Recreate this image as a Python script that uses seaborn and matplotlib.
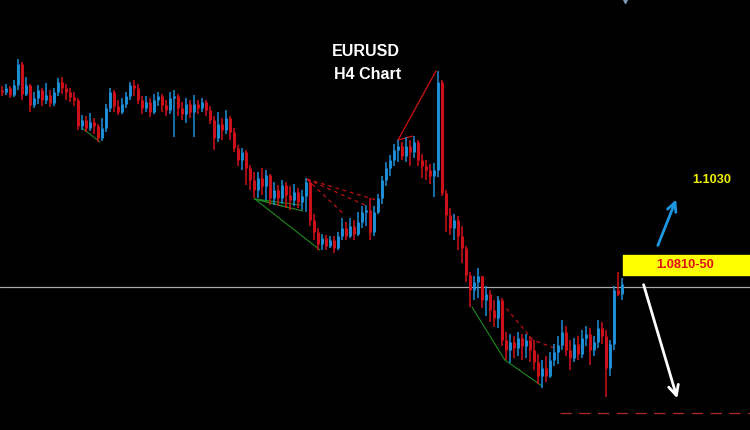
import matplotlib
matplotlib.use("Agg")
import matplotlib.pyplot as plt
import pandas as pd
import seaborn as sns

# EURUSD H4 bars (open of each bar = previous close)
first_open = 1.1180
closes = [1.1176, 1.1184, 1.1170, 1.1190, 1.1232, 1.1172, 1.1190, 1.1150, 1.1164, 1.1180,
          1.1160, 1.1170, 1.1154, 1.1176, 1.1196, 1.1184, 1.1176, 1.1166, 1.1160, 1.1108,
          1.1120, 1.1104, 1.1116, 1.1108, 1.1084, 1.1104, 1.1144, 1.1176, 1.1148, 1.1136,
          1.1152, 1.1168, 1.1190, 1.1184, 1.1160, 1.1144, 1.1156, 1.1136, 1.1160, 1.1168,
          1.1150, 1.1140, 1.1164, 1.1168, 1.1144, 1.1132, 1.1152, 1.1136, 1.1152, 1.1144,
          1.1156, 1.1140, 1.1120, 1.1084, 1.1112, 1.1100, 1.1124, 1.1096, 1.1064, 1.1040,
          1.1056, 1.1024, 1.1000, 1.0980, 1.1004, 1.0988, 1.1010, 1.0964, 1.0980, 1.0964,
          1.0990, 1.0970, 1.0960, 1.0976, 1.0956, 1.0968, 1.0996, 1.0920, 1.0896, 1.0872,
          1.0884, 1.0868, 1.0880, 1.0864, 1.0888, 1.0904, 1.0888, 1.0908, 1.0892, 1.0916,
          1.0936, 1.0940, 1.0896, 1.0936, 1.0964, 1.1000, 1.1024, 1.1040, 1.1060, 1.1068,
          1.1048, 1.1068, 1.1056, 1.1076, 1.1040, 1.1028, 1.1020, 1.1008, 1.1020, 1.1196,
          1.0974, 1.0930, 1.0904, 1.0920, 1.0888, 1.0864, 1.0810, 1.0780, 1.0796, 1.0808,
          1.0760, 1.0772, 1.0740, 1.0724, 1.0760, 1.0680, 1.0660, 1.0676, 1.0664, 1.0684,
          1.0668, 1.0680, 1.0660, 1.0636, 1.0608, 1.0624, 1.0608, 1.0640, 1.0656, 1.0670,
          1.0696, 1.0660, 1.0644, 1.0672, 1.0652, 1.0684, 1.0692, 1.0660, 1.0676, 1.0704,
          1.0688, 1.0624, 1.0672, 1.0780, 1.0772, 1.0792]
highs = [1.1188, 1.1192, 1.1188, 1.1200, 1.1242, 1.1236, 1.1206, 1.1192, 1.1176, 1.1190,
         1.1184, 1.1194, 1.1180, 1.1184, 1.1204, 1.1206, 1.1192, 1.1184, 1.1176, 1.1164,
         1.1130, 1.1128, 1.1134, 1.1124, 1.1112, 1.1124, 1.1152, 1.1184, 1.1180, 1.1160,
         1.1164, 1.1176, 1.1196, 1.1200, 1.1192, 1.1168, 1.1168, 1.1164, 1.1172, 1.1176,
         1.1172, 1.1160, 1.1176, 1.1180, 1.1172, 1.1156, 1.1164, 1.1160, 1.1170, 1.1160,
         1.1164, 1.1160, 1.1148, 1.1128, 1.1136, 1.1124, 1.1140, 1.1128, 1.1104, 1.1070,
         1.1064, 1.1060, 1.1030, 1.1016, 1.1016, 1.1024, 1.1020, 1.1012, 1.0996, 1.0990,
         1.1000, 1.0996, 1.0988, 1.0992, 1.0984, 1.0980, 1.1004, 1.1000, 1.0932, 1.0904,
         1.0892, 1.0890, 1.0888, 1.0888, 1.0896, 1.0924, 1.0916, 1.0924, 1.0920, 1.0936,
         1.0948, 1.0950, 1.0964, 1.0948, 1.0972, 1.1008, 1.1036, 1.1050, 1.1072, 1.1080,
         1.1076, 1.1086, 1.1080, 1.1088, 1.1080, 1.1052, 1.1040, 1.1032, 1.1034, 1.1218,
         1.1200, 1.0980, 1.0944, 1.0932, 1.0928, 1.0908, 1.0868, 1.0816, 1.0808, 1.0824,
         1.0808, 1.0788, 1.0780, 1.0760, 1.0768, 1.0764, 1.0696, 1.0692, 1.0688, 1.0696,
         1.0692, 1.0692, 1.0688, 1.0680, 1.0652, 1.0640, 1.0648, 1.0656, 1.0672, 1.0688,
         1.0720, 1.0708, 1.0680, 1.0684, 1.0688, 1.0700, 1.0708, 1.0704, 1.0688, 1.0720,
         1.0716, 1.0700, 1.0680, 1.0788, 1.0816, 1.0804]
lows = [1.1168, 1.1170, 1.1164, 1.1166, 1.1180, 1.1160, 1.1168, 1.1136, 1.1144, 1.1152,
        1.1148, 1.1152, 1.1146, 1.1148, 1.1168, 1.1172, 1.1160, 1.1156, 1.1148, 1.1100,
        1.1100, 1.1096, 1.1098, 1.1092, 1.1076, 1.1078, 1.1096, 1.1136, 1.1136, 1.1130,
        1.1132, 1.1144, 1.1160, 1.1168, 1.1152, 1.1132, 1.1136, 1.1126, 1.1132, 1.1148,
        1.1136, 1.1128, 1.1132, 1.1086, 1.1128, 1.1120, 1.1114, 1.1124, 1.1086, 1.1132,
        1.1136, 1.1128, 1.1112, 1.1060, 1.1076, 1.1080, 1.1092, 1.1080, 1.1056, 1.1028,
        1.1020, 1.0990, 1.0980, 1.0964, 1.0964, 1.0970, 1.0960, 1.0950, 1.0950, 1.0948,
        1.0952, 1.0944, 1.0940, 1.0948, 1.0944, 1.0940, 1.0936, 1.0908, 1.0880, 1.0860,
        1.0860, 1.0860, 1.0864, 1.0854, 1.0860, 1.0880, 1.0880, 1.0884, 1.0880, 1.0888,
        1.0904, 1.0908, 1.0880, 1.0888, 1.0932, 1.0952, 1.0988, 1.1008, 1.1028, 1.1036,
        1.1040, 1.1036, 1.1028, 1.1044, 1.1028, 1.1004, 1.1000, 1.0992, 1.0966, 1.1006,
        1.0968, 1.0896, 1.0890, 1.0880, 1.0860, 1.0834, 1.0796, 1.0746, 1.0760, 1.0764,
        1.0744, 1.0728, 1.0716, 1.0706, 1.0704, 1.0668, 1.0640, 1.0634, 1.0644, 1.0648,
        1.0640, 1.0644, 1.0636, 1.0620, 1.0592, 1.0584, 1.0596, 1.0604, 1.0628, 1.0632,
        1.0660, 1.0648, 1.0620, 1.0636, 1.0640, 1.0644, 1.0668, 1.0630, 1.0648, 1.0664,
        1.0672, 1.0566, 1.0608, 1.0660, 1.0768, 1.0760]

# pattern lines drawn on the chart (bar index, price)
green_lines = [
    ([20, 24.5], [1.1104, 1.1076]),
    ([63.2, 72], [1.0962, 1.0944]),
    ([63.2, 74.5], [1.0962, 1.0950]),
    ([63.2, 75.2], [1.0962, 1.0938]),
    ([63.2, 79.5], [1.0962, 1.0860]),
    ([117.5, 125.7, 135], [1.0746, 1.0640, 1.0588]),
]
red_dashed = [
    ([76.2, 93.5], [1.1002, 1.0960]),
    ([76.2, 90.7], [1.1002, 1.0950]),
    ([76.2, 85.7], [1.1002, 1.0930]),
    ([123.7, 132.7, 139.5], [1.0766, 1.0680, 1.0660]),
]
red_solid = [
    ([99, 108.5], [1.1080, 1.1218]),
    ([99, 102.7], [1.1080, 1.1088]),
]
current_level = 1.0786
support_level = 1.0534
zone = (1.0810, 1.0850)
zone_label = "1.0810-50"
target_label = "1.1030"

df = pd.DataFrame({"close": closes, "high": highs, "low": lows})
df["open"] = [first_open] + closes[:-1]
df["bar"] = range(len(df))
df["up"] = df["close"] >= df["open"]

sns.set_theme(style="dark", rc={"axes.facecolor": "black", "figure.facecolor": "black"})
plt.rcParams["font.family"] = ["Liberation Sans", "DejaVu Sans"]
red, blue = sns.color_palette(["#d0101a", "#1f8fd6"])

fig = plt.figure(figsize=(7.5, 4.3), dpi=100)
ax = fig.add_axes([0, 0, 1, 1])
ax.set_facecolor("black")

ax.axhline(current_level, color="#a8a8a8", lw=0.9, zorder=1)

colors = [blue if u else red for u in df["up"]]
ax.vlines(df["bar"], df["low"], df["high"], colors=colors, lw=1.1, zorder=3)
body_lo = df[["open", "close"]].min(axis=1)
body_hi = df[["open", "close"]].max(axis=1)
ax.vlines(df["bar"], body_lo, body_hi, colors=colors, lw=2.1, zorder=3)

for xs, ys in green_lines:
    ax.plot(xs, ys, color="#1f8a1f", lw=0.8, zorder=2)
for xs, ys in red_dashed:
    ax.plot(xs, ys, color="#c01010", lw=0.9, ls=(0, (3, 3)), zorder=2)
for xs, ys in red_solid:
    ax.plot(xs, ys, color="#d01010", lw=0.9, zorder=2)

ax.hlines(support_level, 139.5, 187, colors="#b02828", lw=0.9, ls=(0, (9, 6)), zorder=2)

ax.fill_between([155.3, 187], zone[0], zone[1], color="#ffff00", zorder=4)
ax.text(170.8, sum(zone) / 2, zone_label, color="#e01010", fontsize=9.3, fontweight="bold",
        ha="center", va="center", zorder=5)
ax.text(177.5, 1.1000, target_label, color="#f0f000", fontsize=9.2, fontweight="bold",
        ha="center", va="center")

ax.annotate("", xy=(168.8, 1.0966), xytext=(163.7, 1.0864),
            arrowprops=dict(arrowstyle="->", color="#1e96e0", lw=2, mutation_scale=16))
ax.annotate("", xy=(169, 1.0558), xytext=(160.2, 1.0796),
            arrowprops=dict(arrowstyle="->", color="white", lw=2, mutation_scale=18))

ax.text(91, 1.1256, "EURUSD", color="white", fontsize=11.5, fontweight="bold", ha="center", va="center")
ax.text(91.5, 1.1210, "H4 Chart", color="white", fontsize=11.5, fontweight="bold", ha="center", va="center")

ax.plot([155.7], [1.1362], marker="v", color="#8098b8", ms=6, clip_on=True)

ax.set_xlim(-0.5, 187)
ax.set_ylim(1.0500, 1.1360)
ax.axis("off")

fig.savefig("out.png", dpi=100, facecolor="black")
